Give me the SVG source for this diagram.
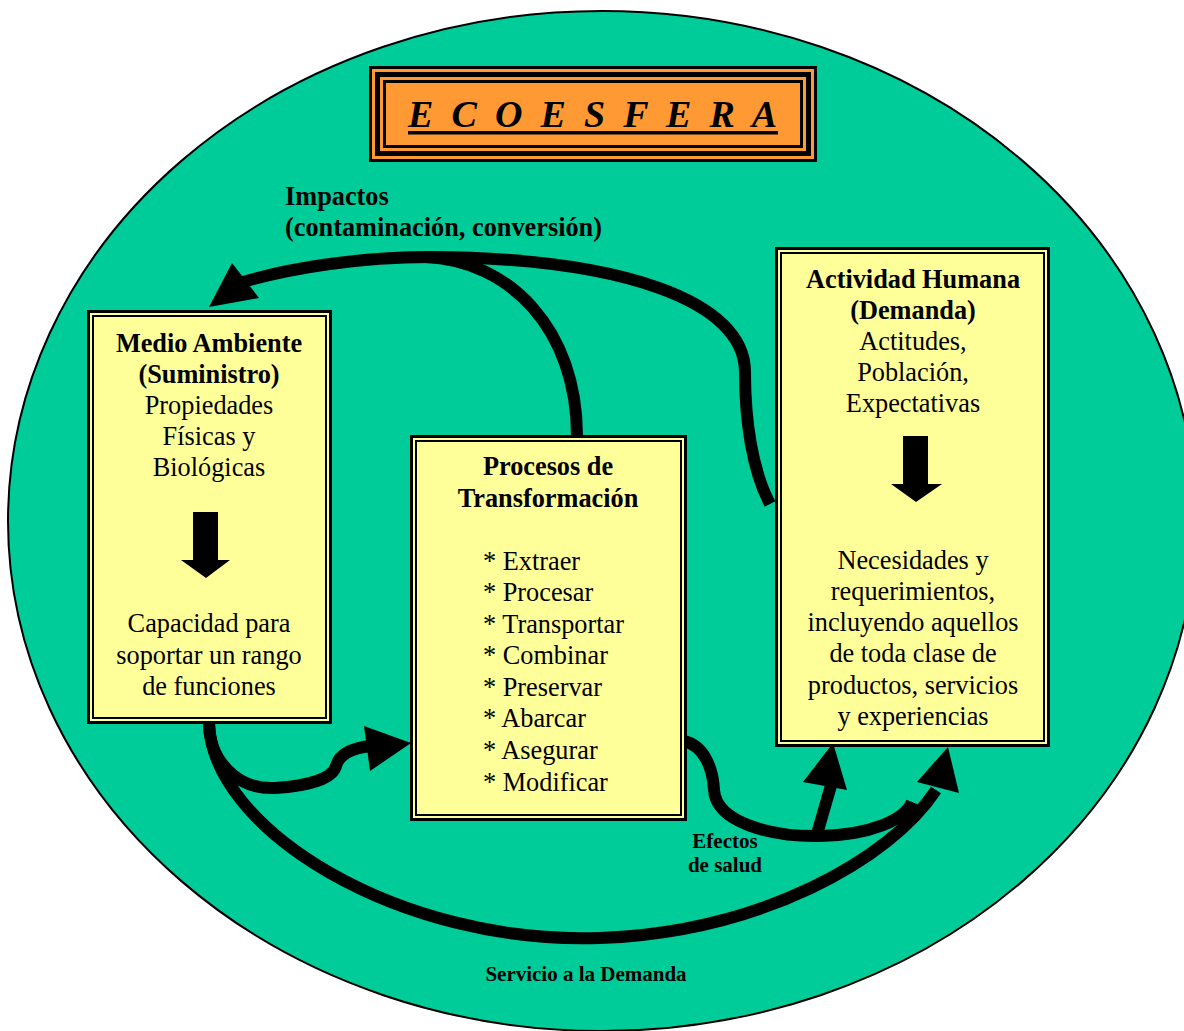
<svg xmlns="http://www.w3.org/2000/svg" width="1184" height="1031" viewBox="0 0 1184 1031">
<style>
.bx{fill:#FFFF99;stroke:#000;stroke-width:3}
.bi{fill:none;stroke:#000;stroke-width:2}
.t{font-family:"Liberation Serif","Times New Roman",serif;font-size:26.3px;fill:#000;text-anchor:middle}
.b{font-weight:bold}
.s{font-family:"Liberation Serif","Times New Roman",serif;font-size:21px;font-weight:bold;fill:#000}
.c{fill:none;stroke:#000;stroke-width:12}
.h{fill:#000}
</style>
<rect width="1184" height="1031" fill="#fff"/>
<ellipse cx="602" cy="521" rx="594" ry="510" fill="#00CC99" stroke="#000" stroke-width="2"/>

<g id="title">
<rect x="369" y="66" width="448" height="96" fill="#000"/>
<rect x="372" y="69" width="442" height="90" fill="#FF9933"/>
<rect x="375" y="72" width="436" height="84" fill="#000"/>
<rect x="380" y="77" width="426" height="74" fill="#FF9933"/>
<rect x="383" y="80" width="420" height="68" fill="#000"/>
<rect x="386" y="83" width="414" height="62" fill="#FF9933"/>
<text x="408" y="127" font-family="'Liberation Serif','Times New Roman',serif" font-size="38" font-weight="bold" font-style="italic" textLength="369" lengthAdjust="spacing">E C O E S F E R A</text>
<rect x="408" y="131" width="370" height="3.5" fill="#000"/>
</g>

<g id="connectors">
<path class="c" d="M770 504 C752 470 745 420 745 372 C745 300 620 258 430 257 C360 257 290 268 243 282"/>
<path class="c" d="M577 436 C577 330 510 260 425 257"/>
<polygon class="h" points="209,307 232,263 259,298"/>
<path class="c" d="M209 723 C209 760 237 790 275 788 C310 786 333 778 336 766 C340 752 355 748 370 746"/>
<polygon class="h" points="411,743 364,726 370,771"/>
<path class="c" d="M209 723 C212 830 400 945 600 938 C760 932 890 860 936 790"/>
<polygon class="h" points="948,747 917,782 959,793"/>
<path class="c" d="M683 741 C705 745 713 770 714 790 C716 822 770 837 820 836 C870 835 905 820 912 802"/>
<path class="c" d="M817 834 L832 782"/>
<polygon class="h" points="833,743 803,782 847,790"/>
</g>

<g id="medio">
<rect class="bx" x="88.5" y="311.5" width="242" height="411"/>
<rect class="bi" x="93" y="316" width="233" height="402"/>
<text class="t b" x="209" y="352">Medio Ambiente</text>
<text class="t b" x="209" y="383">(Suministro)</text>
<text class="t" x="209" y="414">Propiedades</text>
<text class="t" x="209" y="445">Físicas y</text>
<text class="t" x="209" y="476">Biológicas</text>
<polygon class="h" points="193,512 218,512 218,560 230,560 206,578 181,560 193,560"/>
<text class="t" x="209" y="632">Capacidad para</text>
<text class="t" x="209" y="664">soportar un rango</text>
<text class="t" x="209" y="695">de funciones</text>
</g>

<g id="procesos">
<rect class="bx" x="411.5" y="436.5" width="274" height="383"/>
<rect class="bi" x="416" y="441" width="265" height="374"/>
<text class="t b" x="548" y="475">Procesos de</text>
<text class="t b" x="548" y="507">Transformación</text>
<g class="t" style="text-anchor:start">
<text x="483" y="570">* Extraer</text>
<text x="483" y="601">* Procesar</text>
<text x="483" y="633">* Transportar</text>
<text x="483" y="664">* Combinar</text>
<text x="483" y="696">* Preservar</text>
<text x="483" y="727">* Abarcar</text>
<text x="483" y="759">* Asegurar</text>
<text x="483" y="791">* Modificar</text>
</g>
</g>

<g id="actividad">
<rect class="bx" x="776.5" y="248.5" width="272" height="497"/>
<rect class="bi" x="781" y="253" width="263" height="488"/>
<text class="t b" x="913" y="288">Actividad Humana</text>
<text class="t b" x="913" y="319">(Demanda)</text>
<text class="t" x="913" y="350">Actitudes,</text>
<text class="t" x="913" y="381">Población,</text>
<text class="t" x="913" y="412">Expectativas</text>
<polygon class="h" points="903,436 928,436 928,484 942,484 916,502 891,484 903,484"/>
<text class="t" x="913" y="569">Necesidades y</text>
<text class="t" x="913" y="600">requerimientos,</text>
<text class="t" x="913" y="631">incluyendo aquellos</text>
<text class="t" x="913" y="662">de toda clase de</text>
<text class="t" x="913" y="694">productos, servicios</text>
<text class="t" x="913" y="725">y experiencias</text>
</g>

<g id="labels">
<text class="t b" x="285" y="205" style="text-anchor:start">Impactos</text>
<text class="t b" x="285" y="236" style="text-anchor:start">(contaminación, conversión)</text>
<text class="s" x="725" y="848" text-anchor="middle">Efectos</text>
<text class="s" x="725" y="872" text-anchor="middle">de salud</text>
<text class="s" x="586" y="981" text-anchor="middle">Servicio a la Demanda</text>
</g>
</svg>
